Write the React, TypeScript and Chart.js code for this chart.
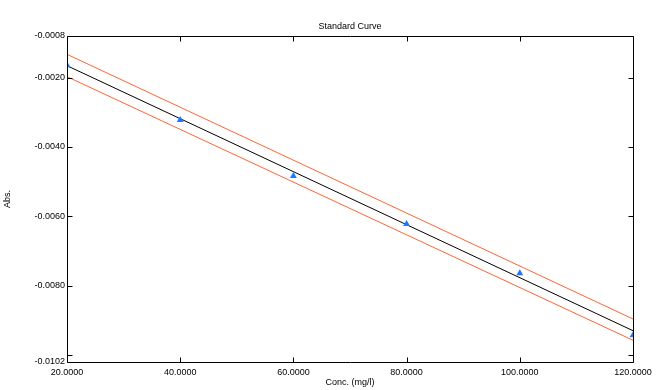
import React, { useEffect, useRef } from "react";
import { Chart, registerables } from "chart.js";

Chart.register(...registerables);

const concentrations = [20, 40, 60, 80, 100, 120];
const absorbance = [-0.001645, -0.00322, -0.00484, -0.00622, -0.00764, -0.00943];
const lineX = [20, 120];
const fitLine = [-0.001656, -0.009298];
const upperBand = [-0.001328, -0.00896];
const lowerBand = [-0.001973, -0.009574];
const xTicks = [20, 40, 60, 80, 100, 120];
const yTickLabels = [-0.0008, -0.002, -0.004, -0.006, -0.008, -0.0102];
const yTickMarks = [-0.002, -0.004, -0.006, -0.008, -0.01];

const FONT = "'Liberation Sans', Arial, sans-serif";

const frameTicks = {
  id: "frameTicks",
  afterDatasetsDraw(chart: any) {
    const { ctx, chartArea, scales } = chart;
    const { left, right, top, bottom } = chartArea;
    const tl = 5;
    ctx.save();
    ctx.strokeStyle = "#000";
    ctx.lineWidth = 1;
    const r = (v: number) => Math.round(v) + 0.5;
    ctx.beginPath();
    ctx.rect(r(left), r(top), Math.round(right) - Math.round(left), Math.round(bottom) - Math.round(top));
    for (const v of yTickMarks) {
      const y = r(scales.y.getPixelForValue(v));
      ctx.moveTo(r(left), y);
      ctx.lineTo(r(left) + tl, y);
      ctx.moveTo(r(right), y);
      ctx.lineTo(r(right) - tl, y);
    }
    for (const v of xTicks) {
      const x = r(scales.x.getPixelForValue(v));
      ctx.moveTo(x, r(bottom));
      ctx.lineTo(x, r(bottom) - tl);
      ctx.moveTo(x, r(top));
      ctx.lineTo(x, r(top) + tl);
    }
    ctx.stroke();
    ctx.restore();
  },
};

export default function App() {
  const canvasRef = useRef<HTMLCanvasElement>(null);

  useEffect(() => {
    if (!canvasRef.current) return;
    const chart = new Chart(canvasRef.current, {
      type: "scatter",
      data: {
        datasets: [
          {
            label: "Standards",
            data: concentrations.map((c, i) => ({ x: c, y: absorbance[i] })),
            pointStyle: "triangle",
            pointRadius: 4,
            backgroundColor: "#1c78ff",
            borderColor: "#1c78ff",
            borderWidth: 0,
            showLine: false,
            clip: 0,
          },
          {
            label: "Fit",
            data: lineX.map((c, i) => ({ x: c, y: fitLine[i] })),
            showLine: true,
            borderColor: "#000",
            borderWidth: 1,
            pointRadius: 0,
            clip: 0,
          },
          {
            label: "Upper",
            data: lineX.map((c, i) => ({ x: c, y: upperBand[i] })),
            showLine: true,
            borderColor: "#ff6432",
            borderWidth: 1,
            pointRadius: 0,
            clip: 0,
          },
          {
            label: "Lower",
            data: lineX.map((c, i) => ({ x: c, y: lowerBand[i] })),
            showLine: true,
            borderColor: "#ff6432",
            borderWidth: 1,
            pointRadius: 0,
            clip: 0,
          },
        ],
      },
      options: {
        animation: false,
        responsive: true,
        maintainAspectRatio: false,
        layout: { padding: { left: 0, right: 25, top: 0, bottom: 0 } },
        plugins: {
          legend: { display: false },
          tooltip: { enabled: false },
          title: {
            display: true,
            text: "Standard Curve",
            fullSize: false,
            color: "#000",
            font: { family: FONT, size: 9, weight: "normal" },
            padding: { top: 21.6, bottom: 3.6 },
          },
        },
        scales: {
          x: {
            type: "linear",
            min: 20,
            max: 120,
            afterBuildTicks: (s: any) => {
              s.ticks = xTicks.map((v) => ({ value: v }));
            },
            afterFit: (s: any) => {
              s.height = 28;
            },
            grid: { display: false, drawTicks: false },
            border: { display: false },
            ticks: {
              autoSkip: false,
              maxRotation: 0,
              padding: 5,
              color: "#000",
              font: { family: FONT, size: 9 },
              callback: (v: any) => Number(v).toFixed(4),
            },
            title: {
              display: true,
              text: "Conc. (mg/l)",
              color: "#000",
              font: { family: FONT, size: 9 },
              padding: { top: 0, bottom: 2 },
            },
          },
          y: {
            type: "linear",
            min: -0.0102,
            max: -0.0008,
            afterBuildTicks: (s: any) => {
              s.ticks = yTickLabels.map((v) => ({ value: v }));
            },
            afterFit: (s: any) => {
              s.width = 67;
            },
            grid: { display: false, drawTicks: false },
            border: { display: false },
            ticks: {
              autoSkip: false,
              padding: 2,
              color: "#000",
              font: { family: FONT, size: 9 },
              callback: (v: any) => Number(v).toFixed(4),
            },
            title: {
              display: true,
              text: "Abs.",
              color: "#000",
              font: { family: FONT, size: 9 },
              padding: { top: 2, bottom: 0 },
            },
          },
        },
      },
      plugins: [frameTicks],
    } as any);
    return () => chart.destroy();
  }, []);

  return (
    <div style={{ position: "fixed", left: 0, top: 0, width: 658, height: 390, background: "#fff" }}>
      <canvas ref={canvasRef} />
    </div>
  );
}
